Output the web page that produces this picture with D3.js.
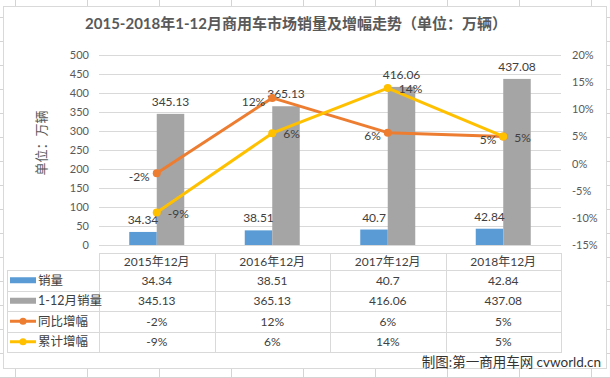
<!DOCTYPE html>
<html><head><meta charset="utf-8">
<script src="https://cdn.jsdelivr.net/npm/d3@7"></script>
<style>
body{margin:0;background:#fff}
svg{display:block}
text{font-family:Lato,"Noto Sans CJK SC",sans-serif}
</style>
</head><body>
<svg id="c" width="610" height="378"></svg>
<script>
// ---------- data ----------
const categories = ["2015年12月", "2016年12月", "2017年12月", "2018年12月"];
const monthlySales = [34.34, 38.51, 40.7, 42.84];
const cumulativeSales = [345.13, 365.13, 416.06, 437.08];
const yoyGrowth = [-0.018, 0.121, 0.057, 0.05];
const cumGrowth = [-0.09, 0.056, 0.139, 0.05];
const leftTicks = [0, 50, 100, 150, 200, 250, 300, 350, 400, 450, 500];
const rightTicks = [-0.15, -0.10, -0.05, 0, 0.05, 0.10, 0.15, 0.20];
const seriesNames = ["销量", "1-12月销量", "同比增幅", "累计增幅"];
const colors = ["#5b9bd5", "#a5a5a5", "#ed7d31", "#ffc000"];
const titleText = "2015-2018年1-12月商用车市场销量及增幅走势（单位：万辆）";
const yTitle = "单位：万辆";
const credit = "制图:第一商用车网 cvworld.cn";

// ---------- setup ----------
const svg = d3.select("#c");
const W = 610, H = 378;
const pct = d3.formatLocale({decimal: ".", thousands: ",", grouping: [3], currency: ["", ""], minus: "-"}).format(".0%");

// Excel sheet grid behind chart
const gridG = svg.append("g").attr("stroke", "#d4d4d4").attr("stroke-width", 1);
d3.range(15, W, 72).forEach(x => gridG.append("line").attr("x1", x + .5).attr("x2", x + .5).attr("y1", 0).attr("y2", H));
d3.range(17, H, 24).forEach(y => gridG.append("line").attr("x1", 0).attr("x2", W).attr("y1", y + .5).attr("y2", y + .5));

// chart area
svg.append("rect").attr("x", 3.5).attr("y", 6.5).attr("width", 603).attr("height", 362)
  .attr("fill", "#fff").attr("stroke", "#d9d9d9");

const plotL = 99, plotR = 561, plotT = 55, plotB = 245;
const x = d3.scaleBand().domain(categories).range([plotL, plotR]).padding(0);
const x1 = d3.scaleBand().domain([0, 1]).range([0, x.bandwidth()]).paddingInner(0).paddingOuter(1.1);
const yL = d3.scaleLinear().domain([0, 500]).range([plotB, plotT]);
const yR = d3.scaleLinear().domain([-0.15, 0.20]).range([plotB, plotT]);

// title
svg.append("text").attr("x", 296).attr("y", 29).attr("text-anchor", "middle")
  .attr("font-size", 15).attr("font-weight", "bold").attr("fill", "#595959").text(titleText);

// gridlines
svg.append("g").selectAll("line").data(leftTicks).join("line")
  .attr("x1", plotL).attr("x2", plotR)
  .attr("y1", d => Math.round(yL(d)) + .5).attr("y2", d => Math.round(yL(d)) + .5)
  .attr("stroke", "#d9d9d9");

// axes
const axL = svg.append("g").attr("transform", `translate(${plotL},0)`)
  .call(d3.axisLeft(yL).tickValues(leftTicks).tickSize(0).tickPadding(10));
const axR = svg.append("g").attr("transform", `translate(${plotR},0)`)
  .call(d3.axisRight(yR).tickValues(rightTicks).tickSize(0).tickPadding(11).tickFormat(pct));
[axL, axR].forEach(a => {
  a.select(".domain").remove();
  a.selectAll("text").attr("font-size", 11).attr("fill", "#595959").attr("font-family", 'Lato,"Noto Sans CJK SC",sans-serif');
});

// y title
svg.append("text").attr("transform", "translate(46,143) rotate(-90)").attr("text-anchor", "middle")
  .attr("font-size", 13).attr("fill", "#595959").text(yTitle);

// bars
const barSeries = [monthlySales, cumulativeSales];
barSeries.forEach((vals, si) => {
  svg.append("g").selectAll("rect").data(vals).join("rect")
    .attr("x", (d, i) => x(categories[i]) + x1(si))
    .attr("width", x1.bandwidth())
    .attr("y", d => yL(d)).attr("height", d => yL(0) - yL(d))
    .attr("fill", colors[si]);
});
barSeries.forEach((vals, si) => {
  svg.append("g").selectAll("text").data(vals).join("text")
    .attr("x", (d, i) => x(categories[i]) + x1(si) + x1.bandwidth() / 2)
    .attr("y", d => yL(d) - 8)
    .attr("text-anchor", "middle").attr("font-size", 12).attr("fill", "#404040")
    .text(d => String(d));
});

// lines
const lineSeries = [yoyGrowth, cumGrowth];
const cx = i => x(categories[i]) + x.bandwidth() / 2;
const line = d3.line().x((d, i) => cx(i)).y(d => yR(d));
lineSeries.forEach((vals, si) => {
  const g = svg.append("g");
  g.append("path").datum(vals).attr("d", line).attr("fill", "none")
    .attr("stroke", colors[si + 2]).attr("stroke-width", 3).attr("stroke-linejoin", "round").attr("stroke-linecap", "round");
  g.selectAll("circle").data(vals).join("circle")
    .attr("cx", (d, i) => cx(i)).attr("cy", d => yR(d)).attr("r", 4)
    .attr("fill", colors[si + 2]);
});
// line labels
svg.append("g").selectAll("text").data(yoyGrowth).join("text")
  .attr("x", (d, i) => cx(i) - 7).attr("y", d => yR(d) + 3.5).attr("dy", "0.35em")
  .attr("text-anchor", "end").attr("font-size", 12).attr("fill", "#404040").text(d => pct(d));
svg.append("g").selectAll("text").data(cumGrowth).join("text")
  .attr("x", (d, i) => cx(i) + 11).attr("y", d => yR(d) + 1).attr("dy", "0.35em")
  .attr("text-anchor", "start").attr("font-size", 12).attr("fill", "#404040").text(d => pct(d));

// data table
const rowY = [253, 270, 290.5, 311, 331.5, 352];
const tb = svg.append("g").attr("stroke", "#d9d9d9").attr("stroke-width", 1);
rowY.forEach((y, k) => {
  tb.append("line").attr("x1", k === 0 ? plotL : 7).attr("x2", plotR)
    .attr("y1", Math.round(y) + .5).attr("y2", Math.round(y) + .5);
});
tb.append("line").attr("x1", 7.5).attr("x2", 7.5).attr("y1", Math.round(rowY[1])).attr("y2", Math.round(rowY[5]) + 1);
categories.concat(["end"]).forEach((c, k) => {
  const xx = Math.round(plotL + k * x.bandwidth()) + .5;
  tb.append("line").attr("x1", xx).attr("x2", xx).attr("y1", Math.round(rowY[0])).attr("y2", Math.round(rowY[5]) + 1);
});
svg.append("g").selectAll("text").data(categories).join("text")
  .attr("x", c => x(c) + x.bandwidth() / 2).attr("y", (rowY[0] + rowY[1]) / 2).attr("dy", "0.36em")
  .attr("text-anchor", "middle").attr("font-size", 12).attr("fill", "#404040").text(c => c);
const tableRows = [
  monthlySales.map(String),
  cumulativeSales.map(String),
  yoyGrowth.map(pct),
  cumGrowth.map(pct)
];
tableRows.forEach((vals, r) => {
  const yc = (rowY[r + 1] + rowY[r + 2]) / 2;
  svg.append("g").selectAll("text").data(vals).join("text")
    .attr("x", (d, i) => cx(i)).attr("y", yc).attr("dy", "0.36em")
    .attr("text-anchor", "middle").attr("font-size", 12).attr("fill", "#404040").text(d => d);
  const lg = svg.append("g");
  if (r < 2) {
    lg.append("rect").attr("x", 10).attr("y", yc - 3).attr("width", 26).attr("height", 6).attr("fill", colors[r]);
  } else {
    lg.append("line").attr("x1", 10).attr("x2", 36).attr("y1", yc).attr("y2", yc)
      .attr("stroke", colors[r]).attr("stroke-width", 3);
    lg.append("circle").attr("cx", 23).attr("cy", yc).attr("r", 3.5).attr("fill", colors[r]);
  }
  lg.append("text").attr("x", 38).attr("y", yc).attr("dy", "0.36em").attr("font-size", 12.5)
    .attr("fill", "#404040").text(seriesNames[r]);
});

// credit
svg.append("text").attr("x", 601).attr("y", 367).attr("text-anchor", "end")
  .attr("font-size", 13.5).attr("fill", "#333").text(credit);
</script>
</body></html>
